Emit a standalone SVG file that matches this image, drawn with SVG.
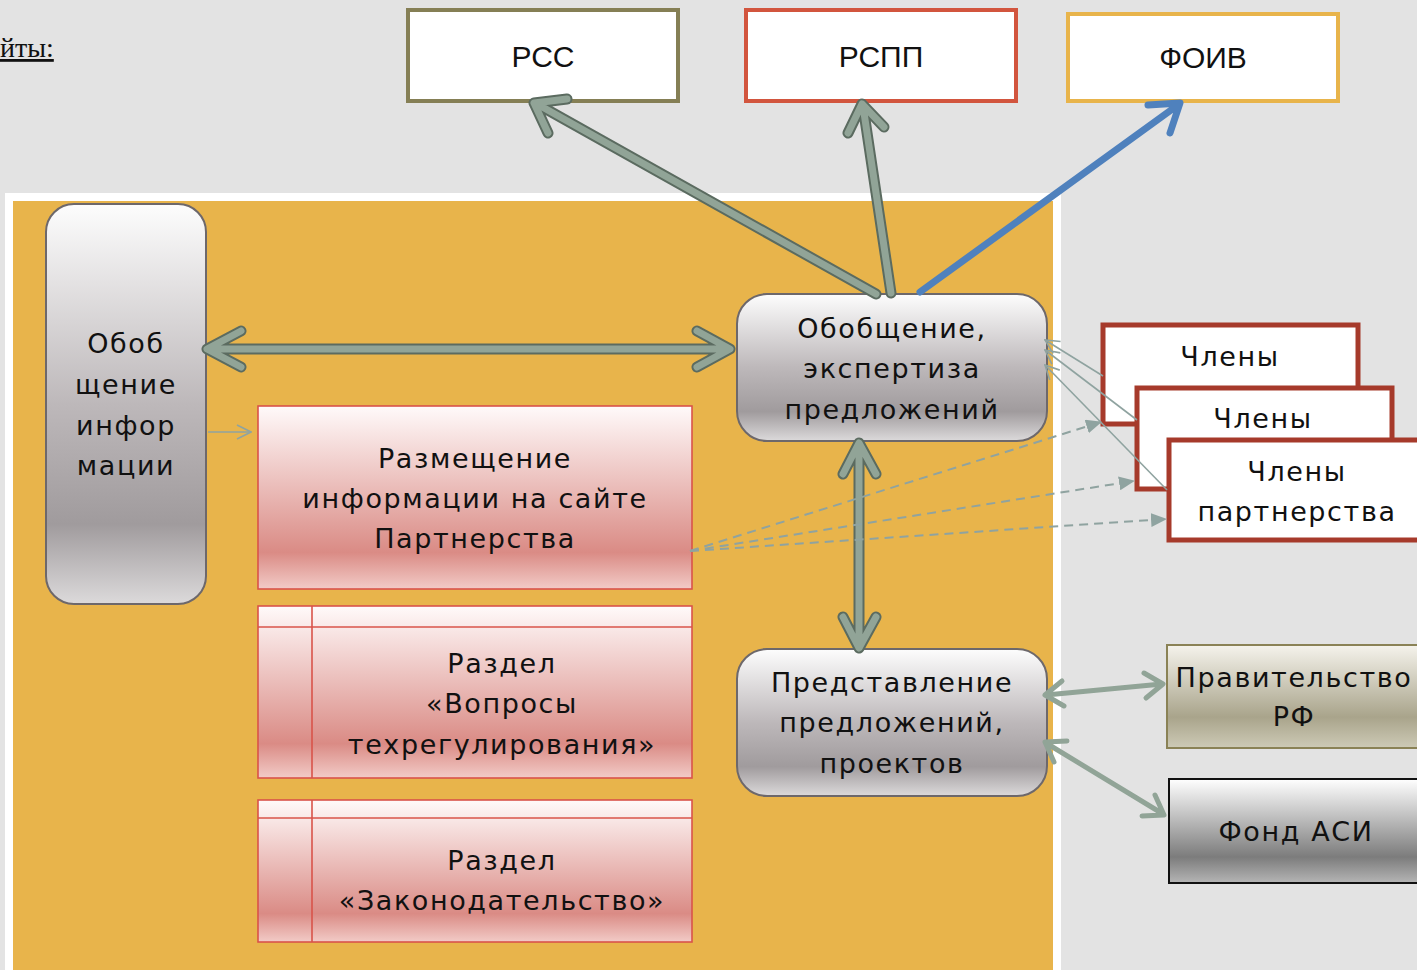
<svg xmlns="http://www.w3.org/2000/svg" width="1417" height="970" viewBox="0 0 1417 970">
<defs>
<style>
.t{font-family:"DejaVu Sans","Noto Sans",sans-serif;font-size:27px;letter-spacing:1.6px;fill:#111;text-anchor:middle}
.tb{font-family:"Liberation Sans",Arial,sans-serif;font-size:30px;fill:#111;text-anchor:middle}
.big-o{fill:none;stroke:#5b6b60;stroke-width:11;stroke-linecap:round;stroke-linejoin:round}
.big-i{fill:none;stroke:#91a497;stroke-width:7;stroke-linecap:round;stroke-linejoin:round}
.mid{fill:none;stroke:#91a497;stroke-width:5;stroke-linecap:round;stroke-linejoin:round}
.thin{fill:none;stroke:#8fa3a0;stroke-width:1.6}
.dash{fill:none;stroke:#8fa3a0;stroke-width:2;stroke-dasharray:9 6}
.pink{fill:url(#gPink);stroke:#d9534a;stroke-width:1.6}
.member{fill:#fff;stroke:#a63a2b;stroke-width:5}
</style>
<linearGradient id="gGray" x1="0" y1="0" x2="0" y2="1">
<stop offset="0" stop-color="#fdfdfd"/>
<stop offset="0.5" stop-color="#bdb8ba"/>
<stop offset="0.8" stop-color="#a09b9d"/>
<stop offset="1" stop-color="#dcdadb"/>
</linearGradient>
<linearGradient id="gPink" x1="0" y1="0" x2="0" y2="1">
<stop offset="0" stop-color="#fffafa"/>
<stop offset="0.8" stop-color="#da8b85"/>
<stop offset="1" stop-color="#f2cbc7"/>
</linearGradient>
<linearGradient id="gOlive" x1="0" y1="0" x2="0" y2="1">
<stop offset="0" stop-color="#f5f3ec"/>
<stop offset="0.7" stop-color="#a9a48b"/>
<stop offset="1" stop-color="#cdcab6"/>
</linearGradient>
<linearGradient id="gDark" x1="0" y1="0" x2="0" y2="1">
<stop offset="0" stop-color="#ffffff"/>
<stop offset="0.75" stop-color="#7c7c7c"/>
<stop offset="1" stop-color="#b5b5b5"/>
</linearGradient>
<marker id="mOpen" viewBox="0 0 16 16" refX="15" refY="8" markerWidth="16" markerHeight="16" markerUnits="userSpaceOnUse" orient="auto">
<path d="M1,1 L15,8 L1,15" fill="none" stroke="#8fa3a0" stroke-width="1.6"/>
</marker>
<marker id="mTri" viewBox="0 0 16 14" refX="15" refY="7" markerWidth="16" markerHeight="14" markerUnits="userSpaceOnUse" orient="auto">
<path d="M0,0 L16,7 L0,14 Z" fill="#8fa3a0"/>
</marker>
</defs>

<rect x="0" y="0" width="1417" height="970" fill="#e3e3e3"/>
<text x="0" y="57" font-family="'Liberation Serif','Times New Roman',serif" font-size="28" fill="#111" text-decoration="underline">йты:</text>

<g id="panel">
<rect x="5" y="193" width="1056" height="790" fill="#ffffff"/>
<rect x="13" y="201" width="1040" height="780" fill="#e8b44b"/>
</g>

<g id="node-rss">
<rect x="408" y="10" width="270" height="91" fill="#fff" stroke="#857f55" stroke-width="4"/>
<text class="tb" x="543" y="67">РСС</text>
</g>
<g id="node-rspp">
<rect x="746" y="10" width="270" height="91" fill="#fff" stroke="#d2553e" stroke-width="4"/>
<text class="tb" x="881" y="67">РСПП</text>
</g>
<g id="node-foiv">
<rect x="1068" y="14" width="270" height="87" fill="#fff" stroke="#e8b44b" stroke-width="4"/>
<text class="tb" x="1203" y="68">ФОИВ</text>
</g>

<g id="node-info">
<rect x="46" y="204" width="160" height="400" rx="28" fill="url(#gGray)" stroke="#6d686b" stroke-width="2"/>
<text class="t" x="126" y="353">Обоб</text>
<text class="t" x="126" y="394">щение</text>
<text class="t" x="126" y="435">инфор</text>
<text class="t" x="126" y="475">мации</text>
</g>

<g id="node-expert">
<rect x="737" y="294" width="310" height="147" rx="30" fill="url(#gGray)" stroke="#6d686b" stroke-width="2"/>
<text class="t" x="892" y="338">Обобщение,</text>
<text class="t" x="892" y="378">экспертиза</text>
<text class="t" x="892" y="419">предложений</text>
</g>

<g id="node-present">
<rect x="737" y="649" width="310" height="147" rx="30" fill="url(#gGray)" stroke="#6d686b" stroke-width="2"/>
<text class="t" x="892" y="692">Представление</text>
<text class="t" x="892" y="732">предложений,</text>
<text class="t" x="892" y="773">проектов</text>
</g>

<g id="node-site">
<rect class="pink" x="258" y="406" width="434" height="183"/>
<text class="t" x="475" y="468">Размещение</text>
<text class="t" x="475" y="508">информации на сайте</text>
<text class="t" x="475" y="548">Партнерства</text>
</g>

<g id="node-techreg">
<rect class="pink" x="258" y="606" width="434" height="172"/>
<line x1="258" y1="627" x2="692" y2="627" stroke="#d9534a" stroke-width="1.6"/>
<line x1="312" y1="606" x2="312" y2="778" stroke="#d9534a" stroke-width="1.6"/>
<text class="t" x="502" y="673">Раздел</text>
<text class="t" x="502" y="713">«Вопросы</text>
<text class="t" x="502" y="754">техрегулирования»</text>
</g>

<g id="node-law">
<rect class="pink" x="258" y="800" width="434" height="142"/>
<line x1="258" y1="818" x2="692" y2="818" stroke="#d9534a" stroke-width="1.6"/>
<line x1="312" y1="800" x2="312" y2="942" stroke="#d9534a" stroke-width="1.6"/>
<text class="t" x="502" y="870">Раздел</text>
<text class="t" x="502" y="910">«Законодательство»</text>
</g>

<g id="node-members-1">
<rect class="member" x="1103" y="325" width="255" height="99"/>
<text class="t" x="1230" y="366">Члены</text>
</g>
<g id="node-members-2">
<rect class="member" x="1137" y="388" width="255" height="101"/>
<text class="t" x="1263" y="428">Члены</text>
</g>
<g id="node-members-3">
<rect class="member" x="1169" y="440" width="260" height="100"/>
<text class="t" x="1297" y="481">Члены</text>
<text class="t" x="1297" y="521">партнерства</text>
</g>

<g id="node-gov">
<rect x="1167" y="645" width="262" height="103" fill="url(#gOlive)" stroke="#8a8256" stroke-width="2"/>
<text class="t" x="1294" y="687">Правительство</text>
<text class="t" x="1294" y="726">РФ</text>
</g>
<g id="node-asi">
<rect x="1169" y="779" width="262" height="104" fill="url(#gDark)" stroke="#111" stroke-width="2"/>
<text class="t" x="1296" y="841">Фонд АСИ</text>
</g>

<g id="connectors">
<path class="big-o" d="M209,349 H728 M241,331 L207,349 L241,367 M697,331 L730,349 L697,367"/>
<path class="big-o" d="M876,294 L537,104 M548,133 L534,103 L567,99"/>
<path class="big-o" d="M891,293 L863,106 M848,133 L862,104 L884,127"/>
<path class="big-o" d="M859,446 V645 M843,474 L859,443 L876,474 M843,617 L859,648 L876,617"/>
<path class="big-i" d="M209,349 H728 M241,331 L207,349 L241,367 M697,331 L730,349 L697,367"/>
<path class="big-i" d="M876,294 L537,104 M548,133 L534,103 L567,99"/>
<path class="big-i" d="M891,293 L863,106 M848,133 L862,104 L884,127"/>
<path class="big-i" d="M859,446 V645 M843,474 L859,443 L876,474 M843,617 L859,648 L876,617"/>
<path d="M920,292 L1178,105 M1148,105 L1180,103 L1170,133" fill="none" stroke="#4f81bd" stroke-width="7" stroke-linecap="round" stroke-linejoin="round"/>
<path class="mid" d="M1046,695 L1162,684 M1064,706 L1045,695 L1062,681 M1144,673 L1163,684 L1146,698"/>
<path class="mid" d="M1046,743 L1163,814 M1054,762 L1045,742 L1067,741 M1155,795 L1164,815 L1142,816"/>
<path class="thin" d="M208,432 L251,432" marker-end="url(#mOpen)"/>
<path class="thin" d="M1103,376 L1045,340" marker-end="url(#mOpen)"/>
<path class="thin" d="M1137,420 L1045,350" marker-end="url(#mOpen)"/>
<path class="thin" d="M1167,490 L1045,365" marker-end="url(#mOpen)"/>
<path class="dash" d="M690,551 L1101,422" marker-end="url(#mTri)"/>
<path class="dash" d="M690,551 L1134,481" marker-end="url(#mTri)"/>
<path class="dash" d="M690,551 L1166,519" marker-end="url(#mTri)"/>
</g>
</svg>
